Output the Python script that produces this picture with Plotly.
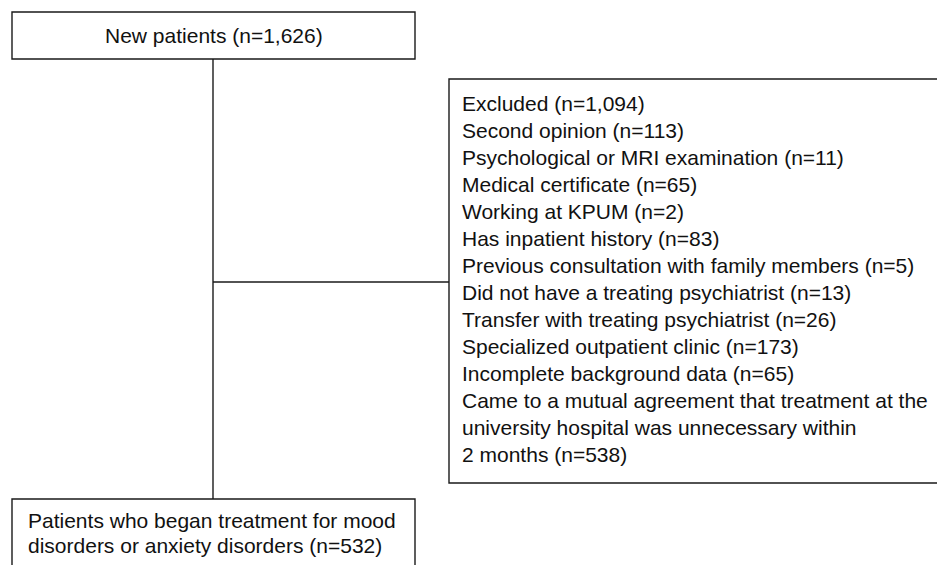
import plotly.graph_objects as go

# ---- data (text content of the flowchart) ----
top_label = ["New patients (n=1,626)"]
excluded_lines = [
    "Excluded (n=1,094)",
    "Second opinion (n=113)",
    "Psychological or MRI examination (n=11)",
    "Medical certificate (n=65)",
    "Working at KPUM (n=2)",
    "Has inpatient history (n=83)",
    "Previous consultation with family members (n=5)",
    "Did not have a treating psychiatrist (n=13)",
    "Transfer with treating psychiatrist (n=26)",
    "Specialized outpatient clinic (n=173)",
    "Incomplete background data (n=65)",
    "Came to a mutual agreement that treatment at the",
    "university hospital was unnecessary within",
    "2 months (n=538)",
]
bottom_lines = [
    "Patients who began treatment for mood",
    "disorders or anxiety disorders (n=532)",
]

# ---- layout geometry (pixel-like coordinate system) ----
W, H = 937, 565
top_box = dict(x0=12, x1=415, y0=12, y1=59)
right_box = dict(x0=449, x1=960, y0=79, y1=483)
bottom_box = dict(x0=12, x1=415, y0=499, y1=590)
spine_x = 213
branch_y = 282
right_text_x = 459.5
right_first_y = 103
right_spacing = 27.0
bottom_text_x = 25.5
bottom_first_y = 520
bottom_spacing = 25.5

FONT = dict(family="Liberation Sans, Arial, sans-serif", size=21, color="#111111")
LINE = dict(color="#1a1a1a", width=1.4)

fig = go.Figure()

shapes = []
for b in (top_box, right_box, bottom_box):
    shapes.append(dict(type="rect", xref="x", yref="y", line=LINE,
                       fillcolor="rgba(0,0,0,0)", **b))
shapes.append(dict(type="line", xref="x", yref="y", x0=spine_x, x1=spine_x,
                   y0=top_box["y1"], y1=bottom_box["y0"], line=LINE))
shapes.append(dict(type="line", xref="x", yref="y", x0=spine_x, x1=right_box["x0"],
                   y0=branch_y, y1=branch_y, line=LINE))

annotations = []
annotations.append(dict(x=(top_box["x0"] + top_box["x1"]) / 2,
                        y=(top_box["y0"] + top_box["y1"]) / 2,
                        xref="x", yref="y", text=top_label[0], showarrow=False,
                        xanchor="center", yanchor="middle", font=FONT))
for i, t in enumerate(excluded_lines):
    annotations.append(dict(x=right_text_x, y=right_first_y + i * right_spacing,
                            xref="x", yref="y", text=t, showarrow=False,
                            xanchor="left", yanchor="middle", font=FONT))
for i, t in enumerate(bottom_lines):
    annotations.append(dict(x=bottom_text_x, y=bottom_first_y + i * bottom_spacing,
                            xref="x", yref="y", text=t, showarrow=False,
                            xanchor="left", yanchor="middle", font=FONT))

fig.update_layout(
    width=W, height=H,
    margin=dict(l=0, r=0, t=0, b=0),
    paper_bgcolor="white", plot_bgcolor="white",
    xaxis=dict(range=[0, W], visible=False, fixedrange=True),
    yaxis=dict(range=[H, 0], visible=False, fixedrange=True),
    shapes=shapes, annotations=annotations,
    showlegend=False,
)

fig.write_html(
    "out.html",
    config={"displayModeBar": False},
    post_script="document.body.style.margin='0';document.body.style.overflow='hidden';",
)
